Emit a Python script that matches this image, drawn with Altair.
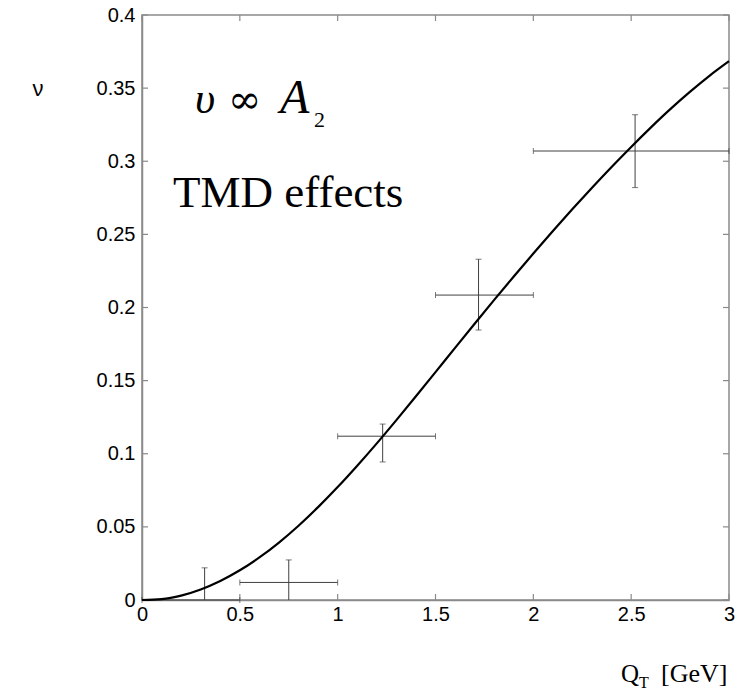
import altair as alt
import pandas as pd

# Curve (model)
curve_x = [0, 0.1, 0.2, 0.3, 0.4, 0.5, 0.6, 0.7, 0.8, 0.9, 1.0, 1.1, 1.2, 1.3, 1.4, 1.5,
           1.6, 1.7, 1.8, 1.9, 2.0, 2.1, 2.2, 2.3, 2.4, 2.5, 2.6, 2.7, 2.8, 2.9, 3.0]
curve_y = [0, 0.0006, 0.0030, 0.0072, 0.0130, 0.0203, 0.0291, 0.0393, 0.0508, 0.0635,
           0.0772, 0.0918, 0.1071, 0.1230, 0.1393, 0.1558, 0.1724, 0.1889, 0.2052, 0.2212,
           0.2369, 0.2523, 0.2673, 0.2819, 0.2961, 0.3098, 0.3230, 0.3356, 0.3474, 0.3584,
           0.3684]

# Data points with error bars
pt_x = [0.32, 0.75, 1.23, 1.72, 2.52]
pt_y = [0.0, 0.012, 0.112, 0.2085, 0.307]
x_lo = [0.0, 0.5, 1.0, 1.5, 2.0]
x_hi = [0.5, 1.0, 1.5, 2.0, 3.0]
y_lo = [0.0, 0.0, 0.0944, 0.1846, 0.282]
y_hi = [0.022, 0.0274, 0.1203, 0.233, 0.3318]

x_ticks = [0, 0.5, 1, 1.5, 2, 2.5, 3]
y_ticks = [0, 0.05, 0.1, 0.15, 0.2, 0.25, 0.3, 0.35, 0.4]

W, H = 587, 585
AX = "#8a8a8a"
EB = "#404040"

curve_df = pd.DataFrame({"x": curve_x, "y": curve_y})
pts_df = pd.DataFrame({"x": pt_x, "y": pt_y, "xlo": x_lo, "xhi": x_hi, "ylo": y_lo, "yhi": y_hi})
xt_df = pd.DataFrame({"v": x_ticks})
yt_df = pd.DataFrame({"v": y_ticks})

xs = alt.Scale(domain=[0, 3], nice=False, zero=False)
ys = alt.Scale(domain=[0, 0.4], nice=False, zero=False)

LBL = dict(labelFont="Liberation Sans", labelFontSize=20, labelColor="black")
xaxis = alt.Axis(values=x_ticks, format="~g", ticks=False, grid=False, title=None,
                 labelFlush=False, labelPadding=4, domainColor=AX, domainWidth=1.5, **LBL)
yaxis = alt.Axis(values=y_ticks, format="~g", ticks=False, grid=False, title=None,
                 labelFlush=False, labelPadding=7, domainColor=AX, domainWidth=1.5, **LBL)

curve = alt.Chart(curve_df).mark_line(color="black", strokeWidth=2.2, interpolate="monotone").encode(
    x=alt.X("x:Q", scale=xs, axis=xaxis),
    y=alt.Y("y:Q", scale=ys, axis=yaxis),
)

hbar = alt.Chart(pts_df).mark_rule(color=EB, strokeWidth=1).encode(
    x=alt.X("xlo:Q", scale=xs), x2="xhi:Q", y=alt.Y("y:Q", scale=ys))
vbar = alt.Chart(pts_df).mark_rule(color=EB, strokeWidth=1).encode(
    x=alt.X("x:Q", scale=xs), y=alt.Y("ylo:Q", scale=ys), y2="yhi:Q")

cap_l = alt.Chart(pts_df).mark_tick(color=EB, orient="vertical", size=6, thickness=1).encode(
    x=alt.X("xlo:Q", scale=xs), y=alt.Y("y:Q", scale=ys))
cap_r = alt.Chart(pts_df).mark_tick(color=EB, orient="vertical", size=6, thickness=1).encode(
    x=alt.X("xhi:Q", scale=xs), y=alt.Y("y:Q", scale=ys))
cap_t = alt.Chart(pts_df).mark_tick(color=EB, orient="horizontal", size=6, thickness=1).encode(
    x=alt.X("x:Q", scale=xs), y=alt.Y("yhi:Q", scale=ys))
cap_b = alt.Chart(pts_df[pts_df["ylo"] > 0]).mark_tick(color=EB, orient="horizontal", size=6, thickness=1).encode(
    x=alt.X("x:Q", scale=xs), y=alt.Y("ylo:Q", scale=ys))

TL = 6
tick_bottom = alt.Chart(xt_df).mark_rule(color=AX, strokeWidth=1.2).encode(
    x=alt.X("v:Q", scale=xs), y=alt.value(H), y2=alt.value(H - TL))
tick_top = alt.Chart(xt_df).mark_rule(color=AX, strokeWidth=1.2).encode(
    x=alt.X("v:Q", scale=xs), y=alt.value(0), y2=alt.value(TL))
tick_left = alt.Chart(yt_df).mark_rule(color=AX, strokeWidth=1.2).encode(
    y=alt.Y("v:Q", scale=ys), x=alt.value(0), x2=alt.value(TL))
tick_right = alt.Chart(yt_df).mark_rule(color=AX, strokeWidth=1.2).encode(
    y=alt.Y("v:Q", scale=ys), x=alt.value(W), x2=alt.value(W - TL))

one = pd.DataFrame({"a": [0]})

def txt(s, x, y, size, font, style="normal", align="left", baseline="alphabetic"):
    return alt.Chart(one).mark_text(text=s, font=font, fontSize=size, fontStyle=style,
                                    align=align, baseline=baseline, color="black").encode(
        x=alt.value(x), y=alt.value(y))

# annotations (pixel positions relative to plot origin at 142,15)
ann = [
    txt("υ", 195 - 142, 113 - 15, 44, "Liberation Serif", "italic"),
    txt("∞", 228 - 142, 113 - 15, 40, "DejaVu Serif"),
    txt("A", 280 - 142, 113 - 15, 48, "Liberation Serif", "italic"),
    txt("2", 314 - 142, 127 - 15, 22, "Liberation Serif"),
    txt("TMD effects", 173 - 142, 207 - 15, 45, "Liberation Serif"),
    txt("ν", 38 - 142, 89 - 15, 22, "Liberation Sans", align="center", baseline="middle"),
    txt("Q", 621 - 142, 682 - 15, 25, "Liberation Serif"),
    txt("T", 639 - 142, 688 - 15, 16, "Liberation Serif"),
    txt("[GeV]", 661 - 142, 682 - 15, 26, "Liberation Serif"),
]

chart = alt.layer(
    tick_bottom, tick_top, tick_left, tick_right,
    hbar, vbar, cap_l, cap_r, cap_t, cap_b, curve, *ann
).properties(
    width=W, height=H,
    background="white",
    autosize=alt.AutoSizeParams(type="none"),
    padding={"left": 142, "top": 15, "right": 10, "bottom": 90},
).configure_view(
    stroke=AX, strokeWidth=1.5
)

chart.save("out.html", embed_options={"renderer": "svg", "actions": False})
